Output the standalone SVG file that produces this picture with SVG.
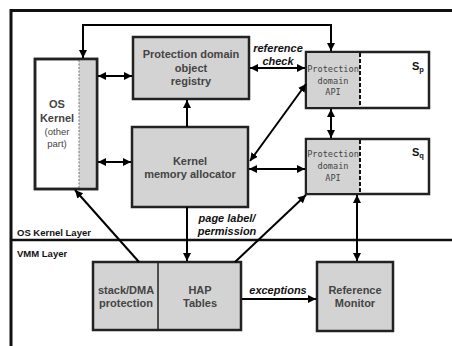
<svg xmlns="http://www.w3.org/2000/svg" width="452" height="346" viewBox="0 0 452 346">
<defs>
<marker id="ah" viewBox="0 0 10 10" refX="10" refY="5" markerWidth="4" markerHeight="4" orient="auto-start-reverse" markerUnits="strokeWidth">
<path d="M0,0 L10,5 L0,10 z" fill="#000"/>
</marker>
<style>
.box{fill:#d3d3d3;stroke:#222;stroke-width:2.5}
.wbox{fill:#fff;stroke:#222;stroke-width:2.5}
.lbl{font-family:"Liberation Sans",Arial,sans-serif;font-weight:bold;font-size:11px;fill:#444;text-anchor:middle}
.sm{font-family:"Liberation Sans",Arial,sans-serif;font-size:9.5px;fill:#444;text-anchor:middle}
.mono{font-family:"DejaVu Sans Mono","Liberation Mono",monospace;font-size:8.6px;fill:#444;text-anchor:middle}
.it{font-family:"Liberation Sans",Arial,sans-serif;font-weight:bold;font-style:italic;font-size:11px;fill:#111;text-anchor:middle}
.layer{font-family:"Liberation Sans",Arial,sans-serif;font-weight:bold;font-size:9.5px;fill:#111}
.s{font-family:"Liberation Sans",Arial,sans-serif;font-weight:bold;font-size:11px;fill:#111}
.c{fill:none;stroke:#000;stroke-width:2}
.d1{marker-end:url(#ah)}
.d2{marker-start:url(#ah);marker-end:url(#ah)}
</style>
</defs>
<rect width="452" height="346" fill="#fff"/>
<g id="frame">
<path d="M11,346 V10.5 H452" fill="none" stroke="#111" stroke-width="3"/>
<line x1="11" y1="240" x2="452" y2="240" stroke="#111" stroke-width="2.5"/>
<text class="layer" x="17" y="236">OS Kernel Layer</text>
<text class="layer" x="17" y="257">VMM Layer</text>
</g>
<g id="os-kernel">
<rect x="35" y="59" width="62" height="130" class="wbox"/>
<rect x="79" y="60.3" width="16.7" height="127.4" fill="#d3d3d3"/>
<line x1="79" y1="60" x2="79" y2="188" stroke="#777" stroke-width="1" stroke-dasharray="2,1.5"/>
<rect x="35" y="59" width="62" height="130" fill="none" stroke="#222" stroke-width="2.5"/>
<text class="lbl" x="57" y="108" font-size="12">OS</text>
<text class="lbl" x="57" y="122" font-size="12">Kernel</text>
<text class="sm" x="57" y="135">(other</text>
<text class="sm" x="57" y="147">part)</text>
</g>
<g id="registry">
<rect x="133" y="37" width="116" height="62" class="box"/>
<text class="lbl" x="191" y="58">Protection domain</text>
<text class="lbl" x="191" y="72">object</text>
<text class="lbl" x="191" y="85">registry</text>
</g>
<g id="allocator">
<rect x="132" y="127" width="116" height="80" class="box"/>
<text class="lbl" x="190" y="165">Kernel</text>
<text class="lbl" x="190" y="178">memory allocator</text>
</g>
<g id="sp">
<rect x="306" y="52" width="123" height="56" class="wbox"/>
<rect x="307.2" y="53.2" width="52.8" height="53.6" fill="#d3d3d3"/>
<line x1="360" y1="53" x2="360" y2="107" stroke="#111" stroke-width="2" stroke-dasharray="4,2"/>
<text class="mono" x="333" y="72">Protection</text>
<text class="mono" x="333" y="84">domain</text>
<text class="mono" x="333" y="95">API</text>
<text class="s" x="412" y="70">S<tspan font-size="7.5" dy="2">p</tspan></text>
</g>
<g id="sq">
<rect x="306" y="139" width="123" height="55" class="wbox"/>
<rect x="307.2" y="140.2" width="52.8" height="52.6" fill="#d3d3d3"/>
<line x1="360" y1="140" x2="360" y2="193" stroke="#111" stroke-width="2" stroke-dasharray="4,2"/>
<text class="mono" x="333" y="157">Protection</text>
<text class="mono" x="333" y="169">domain</text>
<text class="mono" x="333" y="181">API</text>
<text class="s" x="412" y="156">S<tspan font-size="7.5" dy="2">q</tspan></text>
</g>
<g id="hap">
<rect x="93" y="262" width="148" height="68" class="box"/>
<line x1="158" y1="262" x2="158" y2="330" stroke="#222" stroke-width="1.5"/>
<text class="lbl" x="126" y="294">stack/DMA</text>
<text class="lbl" x="126" y="307">protection</text>
<text class="lbl" x="200" y="294">HAP</text>
<text class="lbl" x="200" y="307">Tables</text>
</g>
<g id="refmon">
<rect x="317" y="262" width="76" height="69" class="box"/>
<text class="lbl" x="355" y="294">Reference</text>
<text class="lbl" x="355" y="307">Monitor</text>
</g>
<g id="connectors">
<path class="c d2" d="M83,58 V25 H331 V51"/>
<line class="c d2" x1="98" y1="76" x2="132" y2="76"/>
<line class="c d2" x1="98" y1="162" x2="131" y2="162"/>
<line class="c d1" x1="187" y1="127" x2="187" y2="100"/>
<line class="c d2" x1="250" y1="68" x2="305" y2="68"/>
<line class="c d2" x1="250" y1="161" x2="306" y2="84"/>
<line class="c d2" x1="249" y1="169" x2="305" y2="169"/>
<line class="c d2" x1="331" y1="109" x2="331" y2="138"/>
<line class="c d1" x1="187" y1="207" x2="187" y2="261"/>
<line class="c d1" x1="139" y1="262" x2="75" y2="190"/>
<line class="c d1" x1="235" y1="262" x2="306" y2="195"/>
<line class="c d1" x1="242" y1="299" x2="316" y2="299"/>
<line class="c d2" x1="357" y1="195" x2="357" y2="261"/>
<text class="it" x="278" y="52">reference</text>
<text class="it" x="278" y="65">check</text>
<text class="it" x="227" y="222">page label/</text>
<text class="it" x="227" y="235">permission</text>
<text class="it" x="278" y="294">exceptions</text>
</g>
</svg>
